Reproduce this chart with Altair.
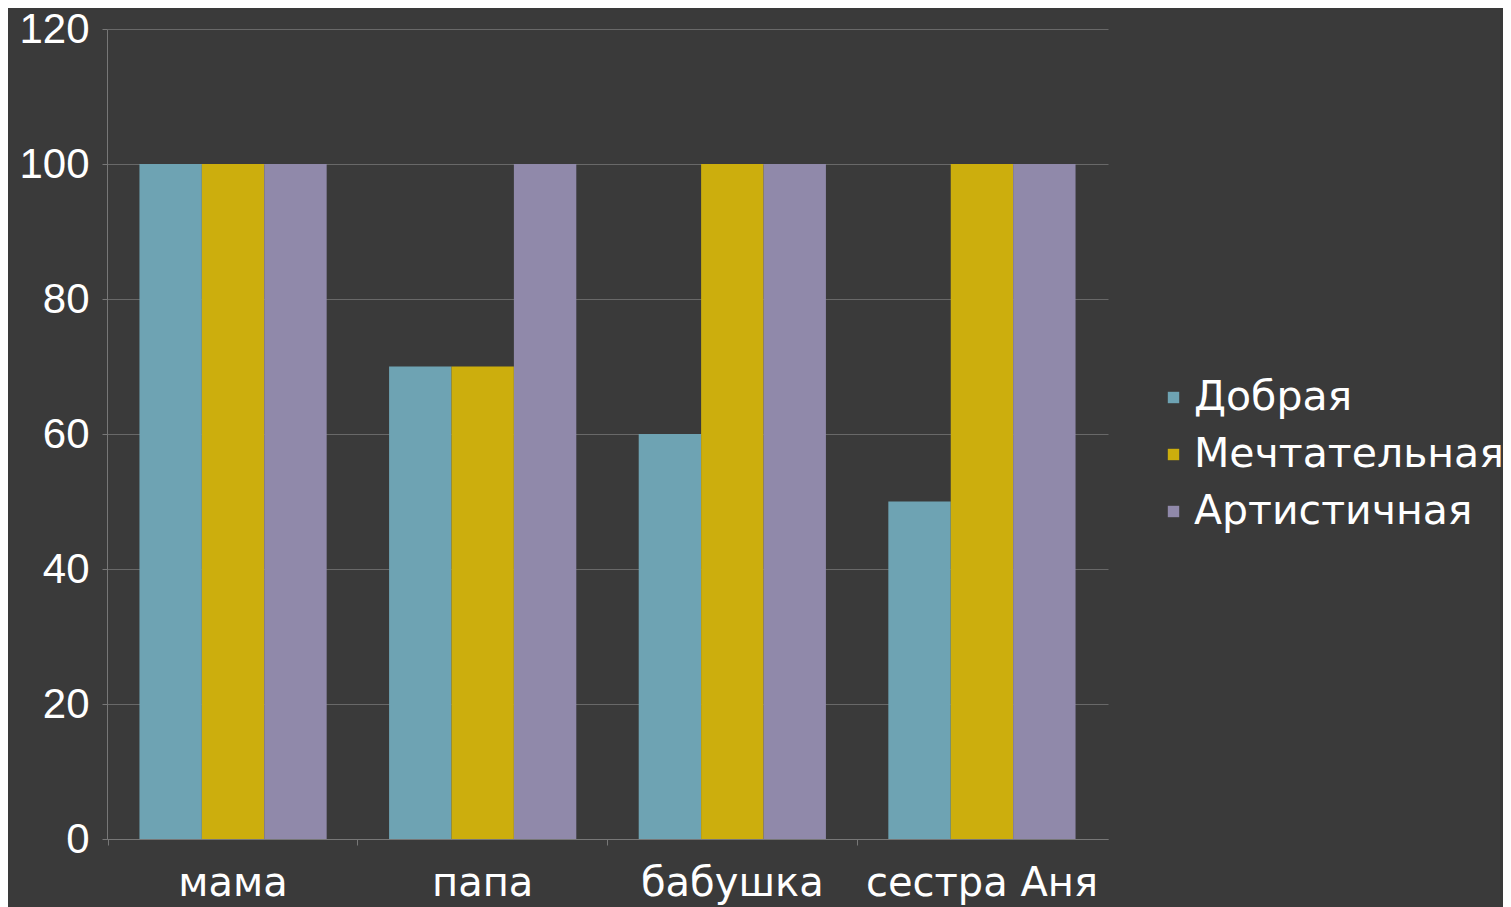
import altair as alt
import pandas as pd

categories = ["мама", "папа", "бабушка", "сестра Аня"]
series = ["Добрая", "Мечтательная", "Артистичная"]
dobraya = [100, 70, 60, 50]
mechtatelnaya = [100, 70, 100, 100]
artistichnaya = [100, 100, 100, 100]
colors = ["#6ea3b3", "#ccae0d", "#9089aa"]

rows = []
for i, c in enumerate(categories):
    for s, vals in zip(series, [dobraya, mechtatelnaya, artistichnaya]):
        rows.append({"cat": c, "series": s, "value": vals[i]})
df = pd.DataFrame(rows)

FONT = "Liberation Sans"
WIDE = "DejaVu Sans"

chart = alt.Chart(df).mark_bar().encode(
    x=alt.X("cat:N", sort=categories, title=None,
            scale=alt.Scale(paddingInner=0.25, paddingOuter=0.13),
            axis=alt.Axis(labelAngle=0, labelFontSize=40, labelColor="#ffffff",
                          labelFont=WIDE, labelPadding=18, tickSize=6,
                          tickColor="#777777", domainColor="#777777",
                          labelLimit=400, labelOverlap=False,
                          bandPosition=-0.1667, grid=False)),
    xOffset=alt.XOffset("series:N", sort=series),
    y=alt.Y("value:Q", title=None,
            scale=alt.Scale(domain=[0, 120]),
            axis=alt.Axis(values=[0, 20, 40, 60, 80, 100, 120], labelFontSize=42,
                          labelColor="#ffffff", labelFont=FONT, labelPadding=13,
                          tickSize=5, tickColor="#777777", domainColor="#777777",
                          gridColor="#686868", gridWidth=1)),
    color=alt.Color("series:N", sort=series,
                    scale=alt.Scale(domain=series, range=colors),
                    legend=alt.Legend(title=None, orient="none", legendX=1020, legendY=348,
                                      symbolType="square", symbolSize=130,
                                      symbolOffset=26,
                                      symbolStrokeWidth=0, labelFontSize=41,
                                      labelColor="#ffffff", labelFont=WIDE,
                                      labelOffset=0, rowPadding=15,
                                      labelLimit=500)),
).properties(
    width=1001, height=810,
    background="#3a3a3a",
    padding={"left": 99, "top": 21, "right": 395, "bottom": 68},
    autosize=alt.AutoSizeParams(type="none"),
).configure_view(stroke=None)

chart.save("out.html", embed_options={"renderer": "svg", "actions": False})
